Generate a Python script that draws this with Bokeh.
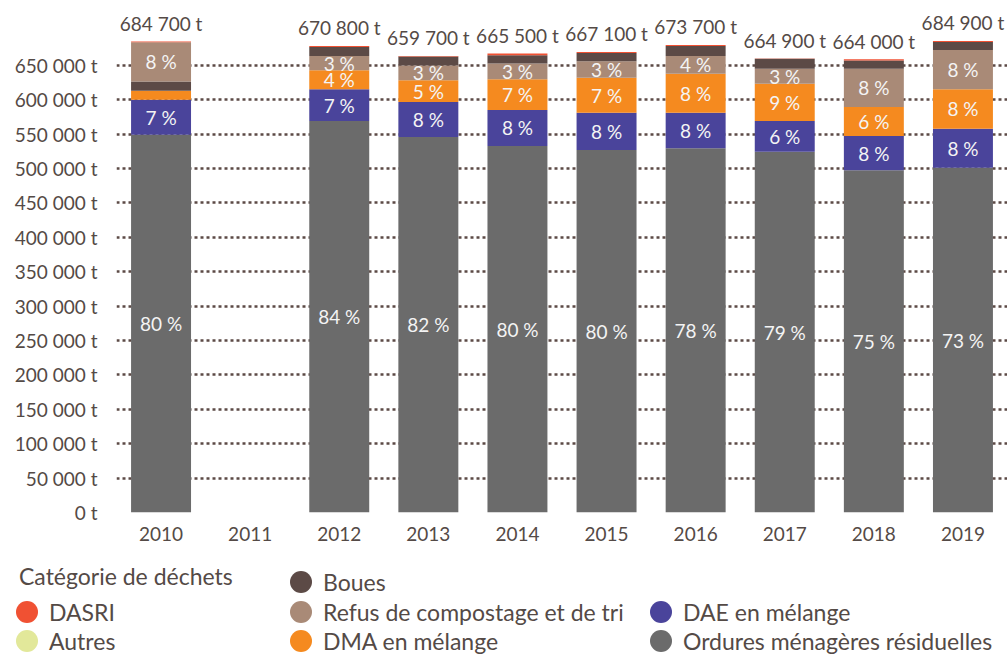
from bokeh.plotting import figure
from bokeh.models import ColumnDataSource, FactorRange, Range1d, FixedTicker, Div
from bokeh.layouts import column
from bokeh.embed import file_html
from bokeh.resources import INLINE
from bokeh.core.properties import value

# ---------------- data ----------------
years = ["2010", "2011", "2012", "2013", "2014", "2015", "2016", "2017", "2018", "2019"]

# tonnes per category
omr    = [549000, 0, 569000, 545800, 532700, 526900, 529400, 524400, 497400, 501200]
dae    = [51000, 0, 46100, 50900, 52300, 54200, 51700, 44600, 49800, 56600]
dma    = [13000, 0, 27600, 31500, 44700, 50900, 56700, 54300, 42200, 57300]
refus  = [57000, 0, 20800, 21400, 22800, 23900, 25700, 21800, 55700, 57100]
boues  = [13500, 0, 13000, 13000, 12000, 12000, 14500, 14500, 12000, 11600]
autres = [0, 0, 0, 0, 0, 0, 0, 0, 0, 0]
dasri  = [1200, 0, 1500, 1000, 2500, 1500, 1500, 300, 1600, 1500]

# published totals (labels above bars)
totals = [684700, None, 670800, 659700, 665500, 667100, 673700, 664900, 664000, 684900]

# percentage labels printed inside segments
pct_omr   = [80, None, 84, 82, 80, 80, 78, 79, 75, 73]
pct_dae   = [7, None, 7, 8, 8, 8, 8, 6, 8, 8]
pct_dma   = [None, None, 4, 5, 7, 7, 8, 9, 6, 8]
pct_refus = [8, None, 3, 3, 3, 3, 4, 3, 8, 8]

y_ticks = list(range(0, 650001, 50000))

legend_title = "Catégorie de déchets"
names = {
    "dasri": "DASRI",
    "autres": "Autres",
    "boues": "Boues",
    "refus": "Refus de compostage et de tri",
    "dma": "DMA en mélange",
    "dae": "DAE en mélange",
    "omr": "Ordures ménagères résiduelles",
}
colors = {
    "omr": "#6b6b6b",
    "dae": "#4a449b",
    "dma": "#f58a1f",
    "refus": "#a98a77",
    "boues": "#5c4a46",
    "autres": "#e2e89a",
    "dasri": "#f05133",
}
series = {"omr": omr, "dae": dae, "dma": dma, "refus": refus,
          "boues": boues, "autres": autres, "dasri": dasri}
pcts = {"omr": pct_omr, "dae": pct_dae, "dma": pct_dma, "refus": pct_refus}

default_order = ["omr", "dae", "dma", "refus", "boues", "autres", "dasri"]
special_order = {"2010": ["omr", "dae", "dma", "boues", "refus", "autres", "dasri"]}

TEXT = "#544a46"
FONT = "Lato"

# ---------------- build segments ----------------
seg = dict(x=[], bottom=[], top=[], color=[])
lab = dict(x=[], y=[], text=[])
tot = dict(x=[], y=[], text=[])
for i, yr in enumerate(years):
    b = 0
    for key in special_order.get(yr, default_order):
        v = series[key][i]
        if v <= 0:
            continue
        seg["x"].append(yr)
        seg["bottom"].append(b)
        seg["top"].append(b + v)
        seg["color"].append(colors[key])
        if key in pcts and pcts[key][i] is not None:
            lab["x"].append(yr)
            lab["y"].append(b + v / 2)
            lab["text"].append(f"{pcts[key][i]} %")
        b += v
    if totals[i] is not None:
        tot["x"].append(yr)
        tot["y"].append(b)
        tot["text"].append(f"{totals[i]:,}".replace(",", " ") + " t")

# ---------------- main chart ----------------
p = figure(x_range=FactorRange(factors=years, range_padding=0),
           y_range=Range1d(0, 732500),
           width=1007, height=560,
           output_backend="svg", toolbar_location=None,
           min_border_left=116, min_border_right=0,
           min_border_top=8, min_border_bottom=48,
           outline_line_color=None)
p.background_fill_color = "white"
p.border_fill_color = "white"

p.xgrid.visible = False
p.ygrid.ticker = FixedTicker(ticks=y_ticks)
p.ygrid.grid_line_color = "#5c4a46"
p.ygrid.grid_line_width = 2.5
p.ygrid.grid_line_dash = "3 3"

p.vbar(x="x", bottom="bottom", top="top", width=0.673, fill_color="color",
       line_color=None, source=ColumnDataSource(seg))

p.text(x="x", y="y", text="text", source=ColumnDataSource(lab),
       text_align="center", text_baseline="middle",
       text_font=value(FONT), text_font_size="19px", text_color="#f4f4f4")

p.text(x="x", y="y", text="text", source=ColumnDataSource(tot),
       text_align="center", text_baseline="alphabetic", y_offset=-18,
       text_font=value(FONT), text_font_size="19px", text_color=TEXT)

p.yaxis.ticker = FixedTicker(ticks=y_ticks)
p.yaxis.major_label_overrides = {t: f"{t:,}".replace(",", " ") + " t" for t in y_ticks}
for ax in (p.xaxis, p.yaxis):
    ax.axis_line_color = None
    ax.major_tick_line_color = None
    ax.minor_tick_line_color = None
    ax.major_tick_out = 0
    ax.major_tick_in = 0
    ax.major_label_text_font = FONT
    ax.major_label_text_font_size = "19px"
    ax.major_label_text_color = TEXT
p.yaxis.major_label_standoff = 19
p.xaxis.major_label_standoff = 14

# ---------------- legend (below the chart) ----------------
legend_keys = ["dasri", "autres", "boues", "refus", "dma", "dae", "omr"]
legend_cells = [(0, 1), (0, 2), (1, 0), (1, 1), (1, 2), (2, 1), (2, 2)]
col_x = [27, 301, 661]   # circle centres (px)
row_y = [22, 52, 81]     # row centres (px, from top of legend block)
R = 11
FS = 23

parts = [f'<div style="position:absolute;left:19px;top:{16 - FS // 2}px;line-height:{FS}px;'
         f'font-size:{FS}px;white-space:nowrap;">{legend_title}</div>']
for key, (c, r) in zip(legend_keys, legend_cells):
    cx, cy = col_x[c], row_y[r]
    parts.append(f'<div style="position:absolute;left:{cx - R}px;top:{cy - R}px;width:{2 * R}px;'
                 f'height:{2 * R}px;border-radius:50%;background:{colors[key]};"></div>')
    parts.append(f'<div style="position:absolute;left:{cx + 22}px;top:{cy - FS // 2}px;'
                 f'line-height:{FS}px;font-size:{FS}px;white-space:nowrap;">{names[key]}</div>')
html = (f'<div style="position:relative;width:1007px;height:92px;font-family:{FONT};'
        f'color:{TEXT};">' + "".join(parts) + "</div>")
legend_div = Div(text=html, width=1007, height=92, margin=(0, 0, 0, 0))

layout = column(p, legend_div, spacing=0)
open("out.html", "w").write(file_html(layout, INLINE))
